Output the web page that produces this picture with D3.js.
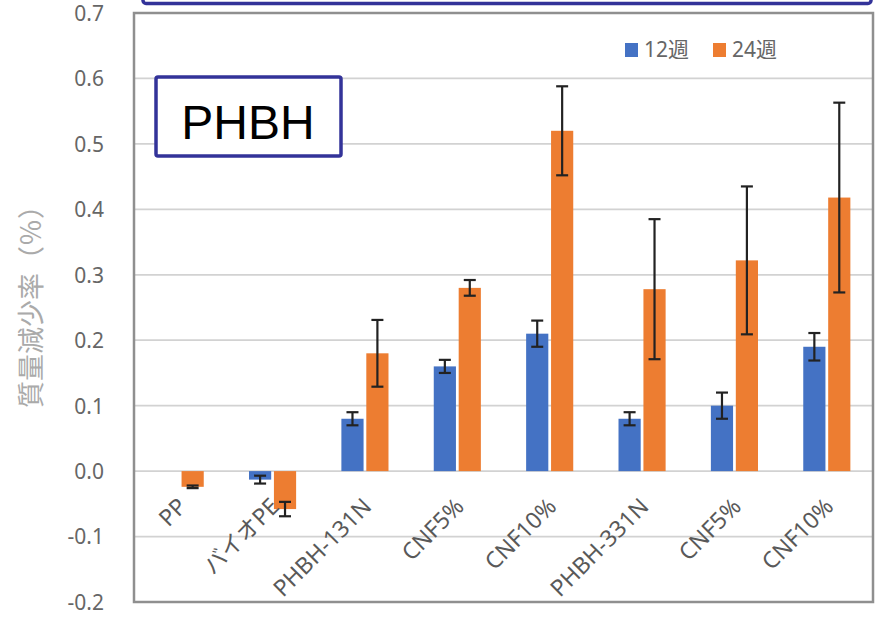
<!DOCTYPE html>
<html><head><meta charset="utf-8">
<script src="https://cdnjs.cloudflare.com/ajax/libs/d3/7.8.5/d3.min.js"></script>
<style>body{margin:0;background:#fff}svg{display:block}</style>
</head><body><svg id="c" width="877" height="617"></svg>
<script>
const categories = ["PP","バイオPE","PHBH-131N","CNF5%","CNF10%","PHBH-331N","CNF5%","CNF10%"];
const seriesNames = ["12週","24週"];
const values12 = [0, -0.013, 0.08, 0.16, 0.21, 0.08, 0.10, 0.19];
const errors12 = [0, 0.006, 0.01, 0.01, 0.02, 0.01, 0.02, 0.021];
const values24 = [-0.024, -0.058, 0.18, 0.28, 0.52, 0.278, 0.322, 0.418];
const errors24 = [0.002, 0.011, 0.051, 0.012, 0.068, 0.107, 0.113, 0.145];
const yTicks = [-0.2,-0.1,0,0.1,0.2,0.3,0.4,0.5,0.6,0.7];
const colors = ["#4472C4","#ED7D31"];
const yTitle = "質量減少率（％）";
const boxLabel = "PHBH";

const svg = d3.select("#c");
const L = 134, R = 873, T = 13, B = 602;
const y = d3.scaleLinear().domain([-0.2, 0.7]).range([B, T]);
const x = d3.scaleBand().domain(d3.range(categories.length)).range([L, R]).paddingInner(0.49).paddingOuter(0.245);
const xs = d3.scaleBand().domain([0,1]).range([0, x.bandwidth()]).paddingInner(0.11);

// top cut-off box
svg.append("rect").attr("x",143).attr("y",-30).attr("width",728).attr("height",33.5)
  .attr("rx",3).attr("fill","none").attr("stroke","#333399").attr("stroke-width",3.5);

// gridlines
svg.append("g").selectAll("line").data(yTicks).join("line")
  .attr("x1",L).attr("x2",R).attr("y1",d=>y(d)).attr("y2",d=>y(d))
  .attr("stroke","#d2d2d2").attr("stroke-width",1.8);

// y axis labels
const fmt = d3.format(".1f");
const yAxis = d3.axisLeft(y).tickValues(yTicks).tickFormat(d=>fmt(d).replace("\u2212","-")).tickSize(0).tickPadding(0);
const ga = svg.append("g").attr("transform",`translate(104,0)`).call(yAxis);
ga.select(".domain").remove();
ga.selectAll("text").attr("font-family","'Noto Sans',sans-serif").attr("font-size",21)
  .attr("fill","#666").attr("dy","0.35em");

// y title
svg.append("text").attr("transform","translate(41,300) rotate(-90)").attr("text-anchor","middle")
  .attr("font-family","'Noto Sans CJK JP',sans-serif").attr("font-size",27).attr("fill","#aaaaaa").text(yTitle);

// bars
const data = categories.map((c,i)=>({i, vals:[values12[i],values24[i]], errs:[errors12[i],errors24[i]]}));
const groups = svg.append("g").selectAll("g").data(data).join("g").attr("transform",d=>`translate(${x(d.i)},0)`);
groups.selectAll("rect").data(d=>d.vals.map((v,s)=>({v,s,e:d.errs[s]}))).join("rect")
  .attr("x",d=>xs(d.s)).attr("width",xs.bandwidth())
  .attr("y",d=>y(Math.max(0,d.v))).attr("height",d=>Math.abs(y(d.v)-y(0)))
  .attr("fill",d=>colors[d.s]);
// error bars
const eb = groups.selectAll("g.eb").data(d=>d.vals.map((v,s)=>({v,s,e:d.errs[s]})).filter(d=>d.e>0)).join("g").attr("class","eb")
  .attr("stroke","#222").attr("stroke-width",2.2);
eb.append("line").attr("x1",d=>xs(d.s)+xs.bandwidth()/2).attr("x2",d=>xs(d.s)+xs.bandwidth()/2)
  .attr("y1",d=>y(d.v+d.e)).attr("y2",d=>y(d.v-d.e));
eb.append("line").attr("x1",d=>xs(d.s)+xs.bandwidth()/2-6).attr("x2",d=>xs(d.s)+xs.bandwidth()/2+6)
  .attr("y1",d=>y(d.v+d.e)).attr("y2",d=>y(d.v+d.e));
eb.append("line").attr("x1",d=>xs(d.s)+xs.bandwidth()/2-6).attr("x2",d=>xs(d.s)+xs.bandwidth()/2+6)
  .attr("y1",d=>y(d.v-d.e)).attr("y2",d=>y(d.v-d.e));

// x labels
svg.append("g").selectAll("text").data(categories).join("text")
  .attr("transform",(d,i)=>`translate(${x(i)+x.bandwidth()/2+8},508) rotate(-45)`)
  .attr("text-anchor","end").attr("font-family","'Noto Sans','Noto Sans CJK JP',sans-serif")
  .attr("font-size",23).attr("fill","#595959").text(d=>d);

// frame
svg.append("rect").attr("x",L).attr("y",T).attr("width",R-L).attr("height",B-T)
  .attr("fill","none").attr("stroke","#8f8f8f").attr("stroke-width",2.5);

// legend
const legX = [625, 713];
const lg = svg.append("g").selectAll("g").data(seriesNames).join("g").attr("transform",(d,i)=>`translate(${legX[i]},0)`);
lg.append("rect").attr("x",0).attr("y",43).attr("width",13).attr("height",14).attr("fill",(d,i)=>colors[i]);
lg.append("text").attr("x",19).attr("y",57).attr("font-family","'Noto Sans','Noto Sans CJK JP',sans-serif")
  .attr("font-size",21).attr("fill","#666").text(d=>d);

// PHBH box
svg.append("rect").attr("x",156).attr("y",77).attr("width",185).attr("height",79).attr("rx",2)
  .attr("fill","#fff").attr("stroke","#333399").attr("stroke-width",3.5);
svg.append("text").attr("x",248).attr("y",139).attr("text-anchor","middle")
  .attr("font-family","'Liberation Sans',Arial,sans-serif").attr("font-size",48).attr("fill","#000").text(boxLabel);
</script></body></html>
